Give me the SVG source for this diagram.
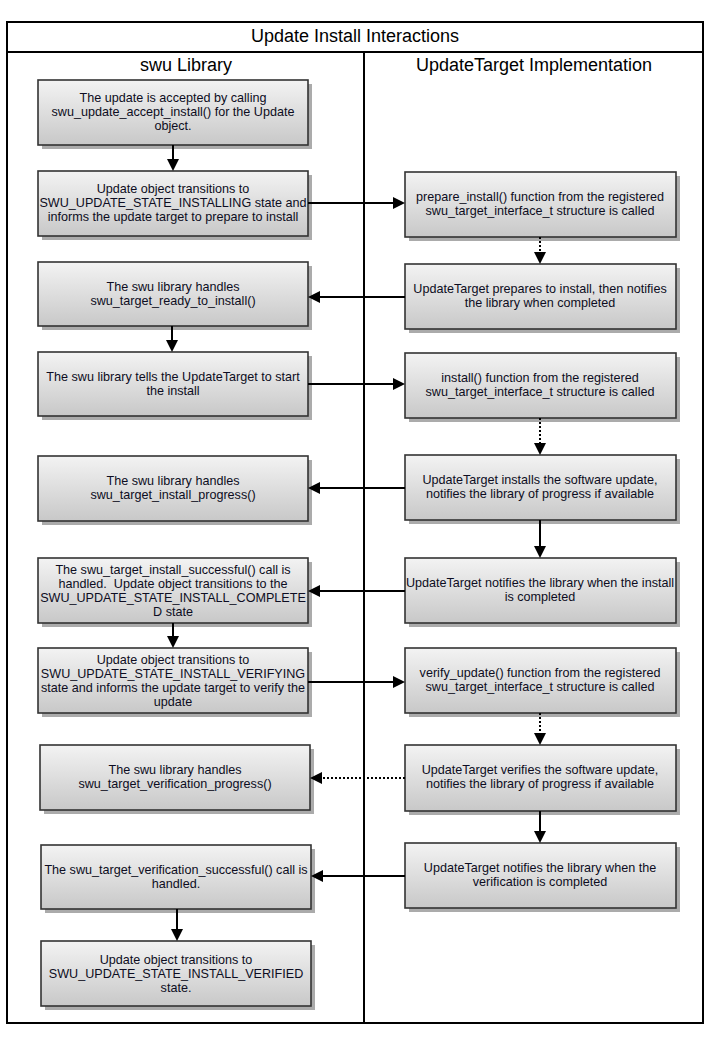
<svg xmlns="http://www.w3.org/2000/svg" width="724" height="1038" viewBox="0 0 724 1038">
  <defs>
    <linearGradient id="boxFill" x1="0" y1="0" x2="0" y2="1">
      <stop offset="0" stop-color="#f3f3f3"/>
      <stop offset="1" stop-color="#c8c8c8"/>
    </linearGradient>
    <marker id="head" markerUnits="userSpaceOnUse" markerWidth="13" markerHeight="13" refX="2" refY="6" orient="auto">
      <path d="M0,0 L12,6 L0,12 Z" fill="#000"/>
    </marker>
    <style>
      .frame { fill: none; stroke: #000; stroke-width: 2; }
      .shadow { fill: #ababab; }
      .box { fill: url(#boxFill); stroke: #333; stroke-width: 1.6; }
      .label { font-family: "Liberation Sans", Arial, sans-serif; font-size: 12.6px; fill: #0d0d22; text-anchor: middle; white-space: pre; }
      .title { font-family: "Liberation Sans", Arial, sans-serif; font-size: 18px; fill: #000; text-anchor: middle; }
      .link { fill: none; stroke: #000; stroke-width: 2; marker-end: url(#head); }
      .dotted { stroke-dasharray: 2 2; }
    </style>
  </defs>

  <rect width="724" height="1038" fill="#fff"/>

  <!-- pool frame, title row and lanes -->
  <g id="pool">
    <rect class="frame" x="7" y="22" width="696" height="1001"/>
    <line class="frame" x1="7" y1="52" x2="703" y2="52"/>
    <line class="frame" x1="364" y1="52" x2="364" y2="1023"/>
    <text class="title" x="355" y="41.5">Update Install Interactions</text>
    <text class="title" x="186" y="70.5">swu Library</text>
    <text class="title" x="534" y="70.5">UpdateTarget Implementation</text>
  </g>

  <!-- swu Library lane -->
  <g id="accept">
    <rect class="shadow" x="42" y="84" width="270" height="65"/>
    <rect class="box" x="38" y="80" width="270" height="65"/>
    <text class="label" x="173" y="102">The update is accepted by calling</text>
    <text class="label" x="173" y="116">swu_update_accept_install() for the Update</text>
    <text class="label" x="173" y="130">object.</text>
  </g>
  <g id="installing">
    <rect class="shadow" x="42" y="175" width="270" height="65"/>
    <rect class="box" x="38" y="171" width="270" height="65"/>
    <text class="label" x="173" y="193">Update object transitions to</text>
    <text class="label" x="173" y="207">SWU_UPDATE_STATE_INSTALLING state and</text>
    <text class="label" x="173" y="221">informs the update target to prepare to install</text>
  </g>
  <g id="readyToInstall">
    <rect class="shadow" x="42" y="266" width="270" height="64"/>
    <rect class="box" x="38" y="262" width="270" height="64"/>
    <text class="label" x="173" y="291">The swu library handles</text>
    <text class="label" x="173" y="305">swu_target_ready_to_install()</text>
  </g>
  <g id="startInstall">
    <rect class="shadow" x="42" y="356" width="270" height="64"/>
    <rect class="box" x="38" y="352" width="270" height="64"/>
    <text class="label" x="173" y="381">The swu library tells the UpdateTarget to start</text>
    <text class="label" x="173" y="395">the install</text>
  </g>
  <g id="installProgress">
    <rect class="shadow" x="42" y="460" width="270" height="65"/>
    <rect class="box" x="38" y="456" width="270" height="65"/>
    <text class="label" x="173" y="485">The swu library handles</text>
    <text class="label" x="173" y="499">swu_target_install_progress()</text>
  </g>
  <g id="installSuccessful">
    <rect class="shadow" x="42" y="562" width="270" height="65"/>
    <rect class="box" x="38" y="558" width="270" height="65"/>
    <text class="label" x="173" y="573.5">The swu_target_install_successful() call is</text>
    <text class="label" x="173" y="587.5">handled.  Update object transitions to the</text>
    <text class="label" x="173" y="601.5">SWU_UPDATE_STATE_INSTALL_COMPLETE</text>
    <text class="label" x="173" y="615.5">D state</text>
  </g>
  <g id="verifying">
    <rect class="shadow" x="42" y="652" width="270" height="65"/>
    <rect class="box" x="38" y="648" width="270" height="65"/>
    <text class="label" x="173" y="663.5">Update object transitions to</text>
    <text class="label" x="173" y="677.5">SWU_UPDATE_STATE_INSTALL_VERIFYING</text>
    <text class="label" x="173" y="691.5">state and informs the update target to verify the</text>
    <text class="label" x="173" y="705.5">update</text>
  </g>
  <g id="verificationProgress">
    <rect class="shadow" x="44" y="749" width="270" height="65"/>
    <rect class="box" x="40" y="745" width="270" height="65"/>
    <text class="label" x="175" y="774">The swu library handles</text>
    <text class="label" x="175" y="788">swu_target_verification_progress()</text>
  </g>
  <g id="verificationSuccessful">
    <rect class="shadow" x="45" y="849" width="270" height="64"/>
    <rect class="box" x="41" y="845" width="270" height="64"/>
    <text class="label" x="176" y="874">The swu_target_verification_successful() call is</text>
    <text class="label" x="176" y="888">handled.</text>
  </g>
  <g id="verified">
    <rect class="shadow" x="45" y="945" width="270" height="65"/>
    <rect class="box" x="41" y="941" width="270" height="65"/>
    <text class="label" x="176" y="963.5">Update object transitions to</text>
    <text class="label" x="176" y="977.5">SWU_UPDATE_STATE_INSTALL_VERIFIED</text>
    <text class="label" x="176" y="991.5">state.</text>
  </g>

  <!-- UpdateTarget Implementation lane -->
  <g id="prepareInstall">
    <rect class="shadow" x="409" y="176" width="271" height="65"/>
    <rect class="box" x="405" y="172" width="271" height="65"/>
    <text class="label" x="540" y="201">prepare_install() function from the registered</text>
    <text class="label" x="540" y="215">swu_target_interface_t structure is called</text>
  </g>
  <g id="prepares">
    <rect class="shadow" x="409" y="268" width="271" height="65"/>
    <rect class="box" x="405" y="264" width="271" height="65"/>
    <text class="label" x="540" y="293">UpdateTarget prepares to install, then notifies</text>
    <text class="label" x="540" y="307">the library when completed</text>
  </g>
  <g id="installCall">
    <rect class="shadow" x="409" y="357" width="271" height="65"/>
    <rect class="box" x="405" y="353" width="271" height="65"/>
    <text class="label" x="540" y="382">install() function from the registered</text>
    <text class="label" x="540" y="396">swu_target_interface_t structure is called</text>
  </g>
  <g id="installs">
    <rect class="shadow" x="409" y="459" width="271" height="65"/>
    <rect class="box" x="405" y="455" width="271" height="65"/>
    <text class="label" x="540" y="484">UpdateTarget installs the software update,</text>
    <text class="label" x="540" y="498">notifies the library of progress if available</text>
  </g>
  <g id="installCompleted">
    <rect class="shadow" x="409" y="562" width="271" height="65"/>
    <rect class="box" x="405" y="558" width="271" height="65"/>
    <text class="label" x="540" y="587">UpdateTarget notifies the library when the install</text>
    <text class="label" x="540" y="601">is completed</text>
  </g>
  <g id="verifyUpdate">
    <rect class="shadow" x="409" y="652" width="271" height="65"/>
    <rect class="box" x="405" y="648" width="271" height="65"/>
    <text class="label" x="540" y="677">verify_update() function from the registered</text>
    <text class="label" x="540" y="691">swu_target_interface_t structure is called</text>
  </g>
  <g id="verifies">
    <rect class="shadow" x="409" y="749" width="271" height="66"/>
    <rect class="box" x="405" y="745" width="271" height="66"/>
    <text class="label" x="540" y="774">UpdateTarget verifies the software update,</text>
    <text class="label" x="540" y="788">notifies the library of progress if available</text>
  </g>
  <g id="verificationCompleted">
    <rect class="shadow" x="409" y="847" width="271" height="65"/>
    <rect class="box" x="405" y="843" width="271" height="65"/>
    <text class="label" x="540" y="872">UpdateTarget notifies the library when the</text>
    <text class="label" x="540" y="886">verification is completed</text>
  </g>

  <!-- connectors: each line stops 10px short, the marker carries it to the box edge -->
  <g id="connectors">
    <line class="link" x1="173" y1="145" x2="173" y2="161"/>
    <line class="link" x1="308" y1="203" x2="395" y2="203"/>
    <line class="link dotted" x1="540" y1="237" x2="540" y2="254"/>
    <line class="link" x1="405" y1="297" x2="318" y2="297"/>
    <line class="link" x1="172" y1="326" x2="172" y2="342"/>
    <line class="link" x1="308" y1="384" x2="395" y2="384"/>
    <line class="link dotted" x1="540" y1="418" x2="540" y2="445"/>
    <line class="link" x1="405" y1="488" x2="318" y2="488"/>
    <line class="link" x1="540" y1="520" x2="540" y2="548"/>
    <line class="link" x1="405" y1="591" x2="318" y2="591"/>
    <line class="link" x1="173" y1="623" x2="173" y2="638"/>
    <line class="link" x1="308" y1="682" x2="395" y2="682"/>
    <line class="link dotted" x1="540" y1="713" x2="540" y2="735"/>
    <line class="link dotted" x1="405" y1="778" x2="320" y2="778"/>
    <line class="link" x1="540" y1="811" x2="540" y2="833"/>
    <line class="link" x1="405" y1="876" x2="321" y2="876"/>
    <line class="link" x1="177" y1="909" x2="177" y2="931"/>
  </g>
</svg>
